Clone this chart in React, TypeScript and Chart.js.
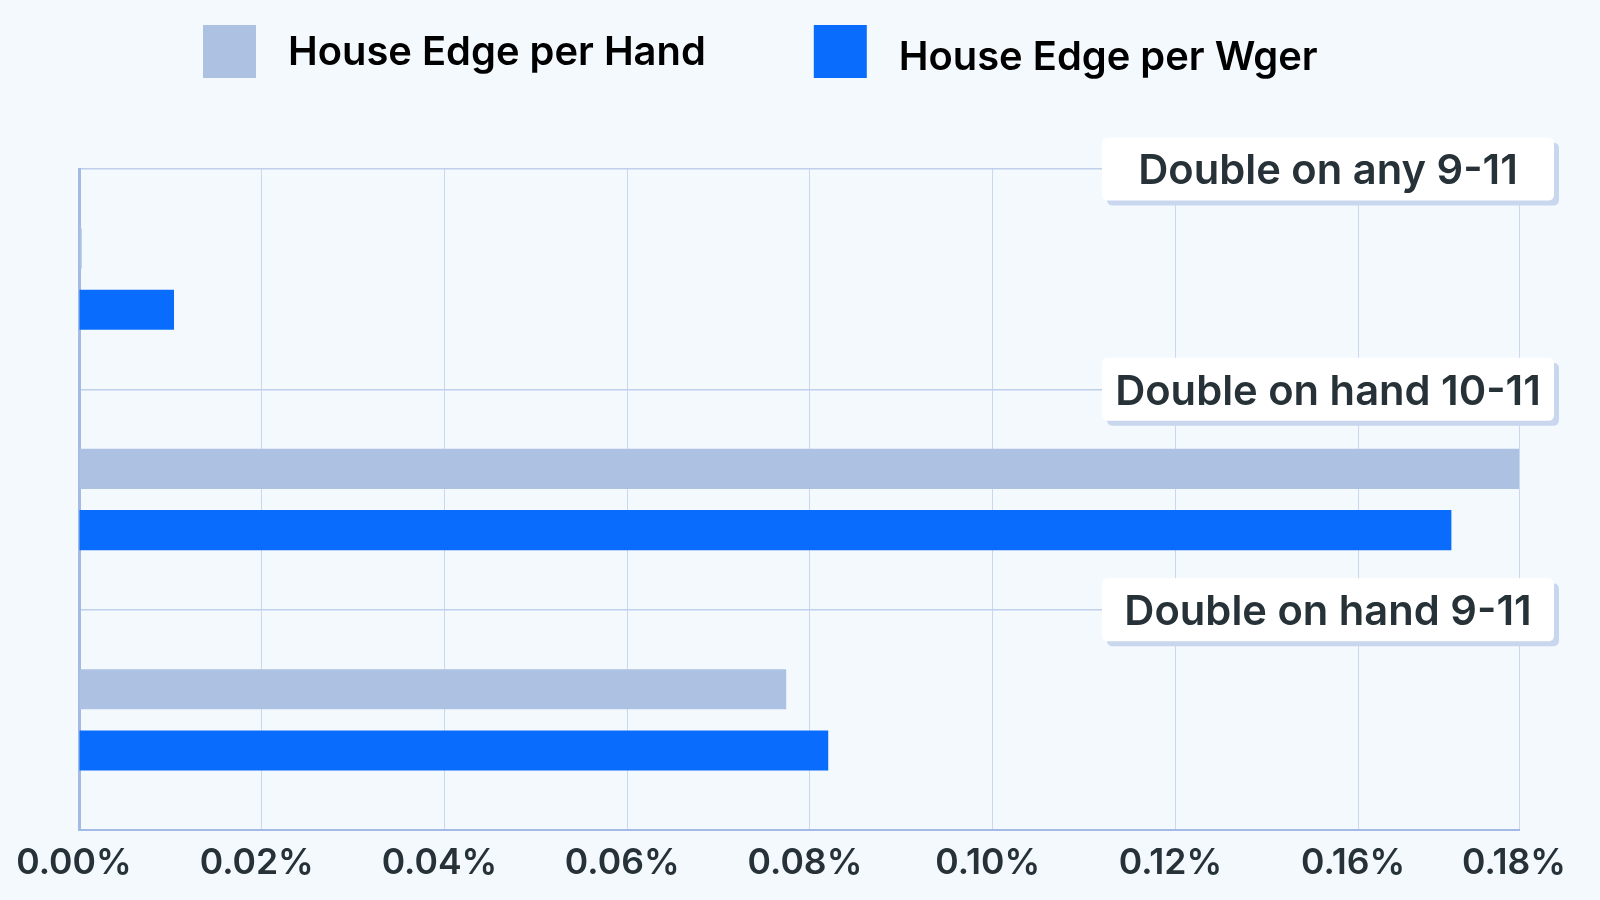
import React, { useEffect, useRef } from "react";
import { Chart, registerables } from "chart.js";

Chart.register(...registerables);

// ---- data ----
const categories = ["Double on any 9-11", "Double on hand 10-11", "Double on hand 9-11"];
const seriesNames = ["House Edge per Hand", "House Edge per Wger"];
const houseEdgePerHand = [0.0003, 0.1576, 0.0774];
const houseEdgePerWager = [0.0104, 0.1502, 0.082];
const xTickValues = [0, 0.02, 0.04, 0.06, 0.08, 0.1, 0.12, 0.14, 0.1576];
const xTickLabels = ["0.00%", "0.02%", "0.04%", "0.06%", "0.08%", "0.10%", "0.12%", "0.16%", "0.18%"];
const xMin = 0;
const xMax = 0.1576;

// ---- style ----
const COLORS = {
  hand: "#adc1e2",
  wager: "#0a6cfc",
  bg: "#f4f9fe",
  grid: "#cad8ee",
  hgrid: "#bfd0ea",
  axis: "#a3bbe4",
  text: "#263238",
  legendText: "#000000",
  shadow: "#c9d7ee",
};
const FONT = "Inter, 'Open Sans', sans-serif";

function fitSize(text: string, weight: number, target: number): number {
  const c = document.createElement("canvas").getContext("2d")!;
  c.font = `${weight} 100px ${FONT}`;
  return (100 * target) / c.measureText(text).width;
}

function roundRect(ctx: CanvasRenderingContext2D, x: number, y: number, w: number, h: number, r: number) {
  ctx.beginPath();
  ctx.moveTo(x + r, y);
  ctx.lineTo(x + w - r, y);
  ctx.quadraticCurveTo(x + w, y, x + w, y + r);
  ctx.lineTo(x + w, y + h - r);
  ctx.quadraticCurveTo(x + w, y + h, x + w - r, y + h);
  ctx.lineTo(x + r, y + h);
  ctx.quadraticCurveTo(x, y + h, x, y + h - r);
  ctx.lineTo(x, y + r);
  ctx.quadraticCurveTo(x, y, x + r, y);
  ctx.closePath();
}

export default function App() {
  const ref = useRef<HTMLCanvasElement | null>(null);

  useEffect(() => {
    if (!ref.current) return;

    const legendSize = fitSize(seriesNames[0], 600, 418);
    const boxSize = fitSize(categories[0], 600, 376) * 1.01;
    const tickSize = fitSize(xTickLabels[0], 600, 110) * 1.05;
    const tickPad = 12;

    const legendPlugin = {
      id: "customLegend",
      afterDraw(chart: any) {
        const ctx: CanvasRenderingContext2D = chart.ctx;
        ctx.save();
        ctx.font = `600 ${legendSize}px ${FONT}`;
        ctx.textBaseline = "middle";
        ctx.textAlign = "left";
        let x = 203;
        const top = 25;
        const box = 53;
        const dy = [2, 7];
        chart.data.datasets.forEach((ds: any, i: number) => {
          ctx.fillStyle = ds.backgroundColor;
          ctx.fillRect(x, top, box, box);
          ctx.fillStyle = COLORS.legendText;
          ctx.fillText(ds.label, x + box + 32, top + box / 2 + dy[i]);
          x += box + 32 + ctx.measureText(ds.label).width + 108;
        });
        ctx.restore();
      },
    };

    const categoryBoxPlugin = {
      id: "categoryBoxes",
      afterDraw(chart: any) {
        const ctx: CanvasRenderingContext2D = chart.ctx;
        const yScale = chart.scales.y;
        const area = chart.chartArea;
        const n = chart.data.labels.length;
        const band = (area.bottom - area.top) / n;
        ctx.save();
        ctx.font = `600 ${boxSize}px ${FONT}`;
        ctx.textAlign = "center";
        ctx.textBaseline = "alphabetic";
        const w = 452;
        const h = 63;
        chart.data.labels.forEach((label: string, i: number) => {
          const cy = yScale.getPixelForValue(i) - band / 2;
          const x = area.right + 35 - w;
          const y = cy - h / 2;
          ctx.fillStyle = COLORS.shadow;
          roundRect(ctx, x + 5, y + 5, w, h, 6);
          ctx.fill();
          ctx.fillStyle = "#ffffff";
          roundRect(ctx, x, y, w, h, 6);
          ctx.fill();
          ctx.fillStyle = COLORS.text;
          ctx.fillText(label, x + w / 2, cy + boxSize * 0.37);
        });
        ctx.restore();
      },
    };

    const chart = new Chart(ref.current, {
      type: "bar",
      data: {
        labels: categories,
        datasets: [
          {
            label: seriesNames[0],
            data: houseEdgePerHand,
            backgroundColor: COLORS.hand,
            categoryPercentage: 0.556,
            barPercentage: 0.655,
          },
          {
            label: seriesNames[1],
            data: houseEdgePerWager,
            backgroundColor: COLORS.wager,
            categoryPercentage: 0.556,
            barPercentage: 0.655,
          },
        ],
      },
      options: {
        indexAxis: "y",
        responsive: false,
        animation: false,
        devicePixelRatio: 1,
        layout: { padding: { top: 169, right: 81, bottom: 0, left: 0 } },
        plugins: {
          legend: { display: false },
          tooltip: { enabled: false },
        },
        scales: {
          x: {
            type: "linear",
            min: xMin,
            max: xMax,
            afterBuildTicks: (s: any) => {
              s.ticks = xTickValues.map((v) => ({ value: v }));
            },
            afterFit: (s: any) => {
              s.height = 70;
            },
            ticks: {
              autoSkip: false,
              maxRotation: 0,
              padding: tickPad,
              labelOffset: -5,
              color: COLORS.text,
              font: { family: FONT, size: tickSize, weight: 600 },
              callback: (_v: any, i: number) => xTickLabels[i],
            },
            grid: { color: COLORS.grid, lineWidth: 1, drawTicks: false },
            border: { color: COLORS.axis, width: 2 },
          },
          y: {
            ticks: { display: false },
            grid: { color: COLORS.hgrid, lineWidth: 1.5, drawTicks: false, offset: true },
            border: { color: COLORS.axis, width: 3 },
            afterFit: (s: any) => {
              s.width = 79;
            },
          },
        },
      },
      plugins: [legendPlugin, categoryBoxPlugin],
    } as any);

    return () => chart.destroy();
  }, []);

  return (
    <div
      style={{
        position: "fixed",
        left: 0,
        top: 0,
        width: 1600,
        height: 900,
        background: COLORS.bg,
      }}
    >
      <canvas ref={ref} width={1600} height={900} style={{ display: "block" }} />
    </div>
  );
}
